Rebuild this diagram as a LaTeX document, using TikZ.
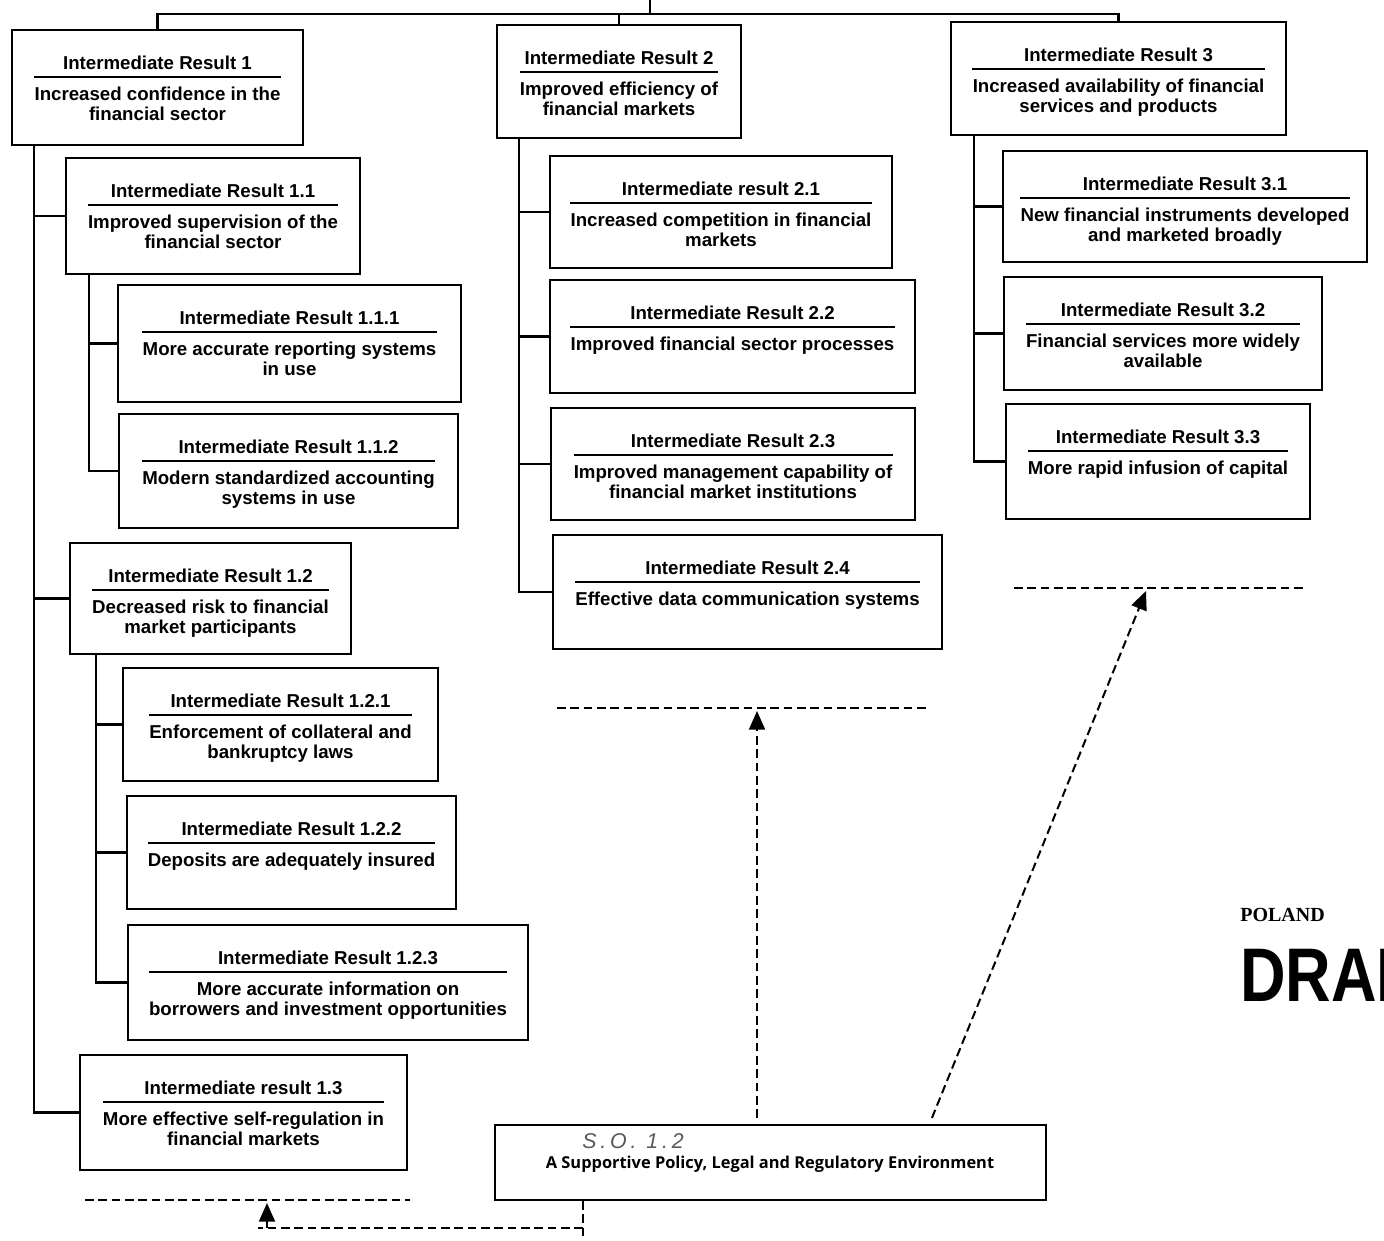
\documentclass[tikz,border=0pt]{standalone}
\usepackage{graphicx}
\usepackage{fontspec}
\setmainfont{Liberation Sans}
\newfontfamily\serifb{Liberation Serif}
\newfontfamily\sofont{Open Sans}
\usetikzlibrary{calc,fit,arrows.meta}
\newcommand{\irbox}[7]{%
  \node[irbox, fit={(#2,#3) (#4,#5)}] (#1) {};
  \node[ttl] (#1t) at ($(#1.north)+(0,34)$) {#6};
  \node[bdy, anchor=north] (#1b) at ($(#1.north)+(0,58)$) {#7};
  \draw[rulest] ($(#1b.north west)+(0,-10)$) -- ($(#1b.north east)+(0,-10)$);
}
\begin{document}
\begin{tikzpicture}[x=0.75pt,y=-0.75pt,
  irbox/.style={draw, line width=1.6pt, inner sep=0pt},
  ttl/.style={font=\bfseries\fontsize{14}{15}\selectfont, inner sep=0pt},
  bdy/.style={font=\bfseries\fontsize{14}{15}\selectfont, inner sep=0pt, align=center},
  rulest/.style={line width=1.2pt},
  conn/.style={line width=2pt},
  dline/.style={line width=1.5pt, dash pattern=on 6.5pt off 3.5pt},
  darrow/.style={line width=1.5pt, dash pattern=on 6.5pt off 3.5pt, -{Triangle[width=12pt,length=14pt]}},
]
\useasboundingbox[fill=white] (0,0) rectangle (1384,1241);

% level 1
\irbox{ir1}{12}{30}{303}{145}{Intermediate Result 1}{Increased confidence in the\\financial sector}
\irbox{ir2}{497}{25}{741}{138}{Intermediate Result 2}{Improved efficiency of\\financial markets}
\irbox{ir3}{951}{22}{1286}{135}{Intermediate Result 3}{Increased availability of financial\\services and products}

% column 1
\irbox{ir11}{66}{158}{360}{274}{Intermediate Result 1.1}{Improved supervision of the\\financial sector}
\irbox{ir111}{118}{285}{461}{402}{Intermediate Result 1.1.1}{More accurate reporting systems\\in use}
\irbox{ir112}{119}{414}{458}{528}{Intermediate Result 1.1.2}{Modern standardized accounting\\systems in use}
\irbox{ir12}{70}{543}{351}{654}{Intermediate Result 1.2}{Decreased risk to financial\\market participants}
\irbox{ir121}{123}{668}{438}{781}{Intermediate Result 1.2.1}{Enforcement of collateral and\\bankruptcy laws}
\irbox{ir122}{127}{796}{456}{909}{Intermediate Result 1.2.2}{Deposits are adequately insured}
\irbox{ir123}{128}{925}{528}{1040}{Intermediate Result 1.2.3}{More accurate information on\\borrowers and investment opportunities}
\irbox{ir13}{80}{1055}{407}{1170}{Intermediate result 1.3}{More effective self-regulation in\\financial markets}

% column 2
\irbox{ir21}{550}{156}{892}{268}{Intermediate result 2.1}{Increased competition in financial\\markets}
\irbox{ir22}{550}{280}{915}{393}{Intermediate Result 2.2}{Improved financial sector processes}
\irbox{ir23}{551}{408}{915}{520}{Intermediate Result 2.3}{Improved management capability of\\financial market institutions}
\irbox{ir24}{553}{535}{942}{649}{Intermediate Result 2.4}{Effective data communication systems}

% column 3
\irbox{ir31}{1003}{151}{1367}{262}{Intermediate Result 3.1}{New financial instruments developed\\and marketed broadly}
\irbox{ir32}{1004}{277}{1322}{390}{Intermediate Result 3.2}{Financial services more widely\\available}
\irbox{ir33}{1006}{404}{1310}{519}{Intermediate Result 3.3}{More rapid infusion of capital}

% strategic objective
\node[irbox, fit={(495,1125) (1046,1200)}] (so) {};
\node[font=\sofont\bfseries\fontsize{12.3}{14}\selectfont, inner sep=0pt] (sot) at (770,1164) {A Supportive Policy, Legal and Regulatory Environment};
\node[font=\itshape\fontsize{16}{17}\selectfont\addfontfeature{LetterSpace=18}, text=black!65, inner sep=0pt] (hw) at (633,1141) {S.O. 1.2};

% top bus
\coordinate (root) at (650,0);
\coordinate (bus) at (650,14);
\draw[conn] (root) -- (bus);
\draw[conn] (ir1.north) |- (bus) -| (ir3.north);
\draw[conn] (ir2.north) -- (ir2.north |- bus);

% spines
\coordinate (s1) at ($(ir1.south west)+(23,0)$);
\foreach \c in {ir11,ir12,ir13} \draw[conn] (s1) |- (\c.west);
\coordinate (s11) at ($(ir11.south west)+(24,0)$);
\foreach \c in {ir111,ir112} \draw[conn] (s11) |- (\c.west);
\coordinate (s12) at ($(ir12.south west)+(27,0)$);
\foreach \c in {ir121,ir122,ir123} \draw[conn] (s12) |- (\c.west);
\coordinate (s2) at ($(ir2.south west)+(23,0)$);
\foreach \c in {ir21,ir22,ir23,ir24} \draw[conn] (s2) |- (\c.west);
\coordinate (s3) at ($(ir3.south west)+(24,0)$);
\foreach \c in {ir31,ir32,ir33} \draw[conn] (s3) |- (\c.west);

% dashed lines and arrows
\coordinate (a1) at (557,708); \coordinate (a2) at (928,708);
\draw[dline] (a1) -- (a2);
\coordinate (at) at (757,711);
\draw[darrow] ($(so.north -| at)+(0,-6)$) -- (at);

\coordinate (b1) at (1014,588); \coordinate (b2) at (1305,588);
\draw[dline] (b1) -- (b2);
\coordinate (bt) at (1146,591);
\coordinate (bs) at ($(so.north west)+(438,-6)$);
\draw[darrow] (bs) -- (bt);

\coordinate (c1) at (85,1200); \coordinate (c2) at (410,1200);
\draw[dline] (c1) -- (c2);
\coordinate (cj) at (583,1228);
\coordinate (cb) at (583,1241);
\coordinate (cs) at (258,1228);
\coordinate (ct) at (267,1203);
\draw[dline] (so.south -| cj) -- (cb);
\draw[dline] (cj) -- (cs);
\draw[darrow] (ct |- cj) -- (ct);

% title
\node[font=\serifb\bfseries\fontsize{15}{17}\selectfont, anchor=west, inner sep=0pt] (pol) at (1240,915) {POLAND};
\begin{scope}
\clip (0,0) rectangle (1384,1241);
\node[font=\bfseries\fontsize{57}{60}\selectfont, anchor=base west, inner sep=0pt] (draft) at (1240,1001) {\scalebox{0.83}[1]{DRAFT}};
\end{scope}
\end{tikzpicture}
\end{document}
